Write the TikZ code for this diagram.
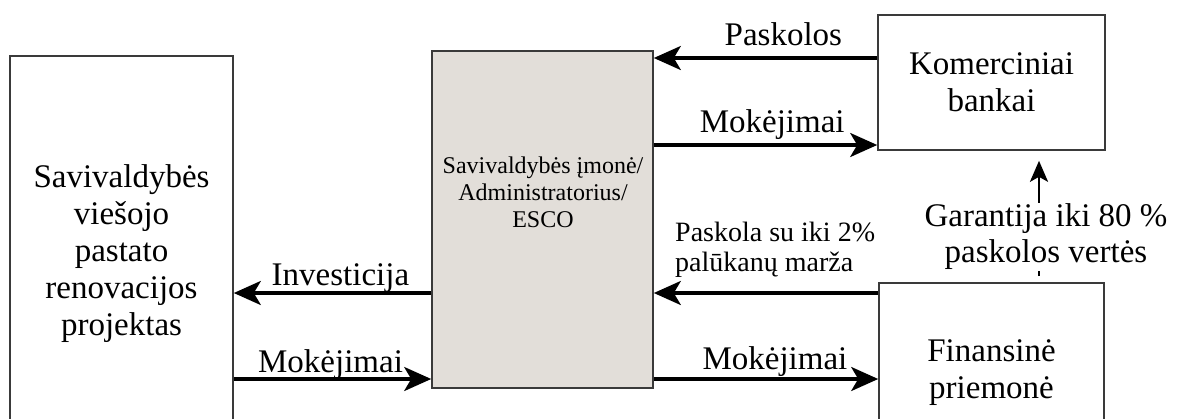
\documentclass[tikz,border=0pt]{standalone}
\usepackage{fontspec}
\setmainfont{Liberation Serif}
\usetikzlibrary{positioning}
\usetikzlibrary{arrows.meta}
\definecolor{escofill}{HTML}{E2DED9}
\definecolor{rema}{HTML}{3A3A3A}

\begin{document}
\begin{tikzpicture}[x=1pt, y=-1pt,
    box/.style={draw=rema, line width=1.6pt, inner sep=0pt, align=center},
    big/.style={font=\fontsize{33}{37}\selectfont},
    flow/.style={line width=3.4pt, -{Stealth[length=27pt, width=24pt, inset=7pt]}},
    lbl/.style={font=\fontsize{33}{37}\selectfont, inner sep=0pt, anchor=base}]
        \useasboundingbox (0,0) rectangle (1177,418);

        % Blokai
        \node[box, big, minimum width=223pt, minimum height=396pt] (proj) at (121.5,254) {Savivaldybės\\viešojo\\pastato\\renovacijos\\projektas};
        \node[box, fill=escofill, minimum width=221pt, minimum height=337pt] (esco) at (542.5,219.5) {};
        \node[font=\fontsize{24}{27}\selectfont, align=center] (escotxt) at (543,192) {Savivaldybės įmonė/\\Administratorius/\\ESCO};
        \node[box, big, minimum width=227pt, minimum height=135pt] (bankai) at (991.5,82.5) {Komerciniai\\bankai};
        \node[box, big, minimum width=225pt, minimum height=180pt] (fin) at (991.5,373) {Finansinė\\priemonė};

        % Srautai tarp bankų ir ESCO
        \draw[flow] ([yshift=24.5pt]bankai.west) -- ([yshift=24.5pt]bankai.west -| esco.east) node[lbl, pos=0.42, yshift=13pt] {Paskolos};
        \draw[flow] ([yshift=-62.5pt]bankai.west -| esco.east) -- ([yshift=-62.5pt]bankai.west) node[lbl, pos=0.53, yshift=13pt] {Mokėjimai};

        % Srautai tarp priemonės ir ESCO
        \draw[flow] ([yshift=80pt]fin.west) -- ([yshift=80pt]fin.west -| esco.east);
        \node[font=\fontsize{28}{30}\selectfont, align=left, inner sep=0pt, anchor=west] (paskola) at (675,250) {Paskola su iki 2\%\\palūkanų marža};
        \draw[flow] ([yshift=-6pt]fin.west -| esco.east) -- ([yshift=-6pt]fin.west) node[lbl, pos=0.54, yshift=10pt] {Mokėjimai};

        % Srautai tarp ESCO ir projekto
        \draw[flow] ([yshift=-73.5pt]esco.west) -- ([yshift=-73.5pt]esco.west -| proj.east) node[lbl, pos=0.46, yshift=8pt] {Investicija};
        \draw[flow] ([yshift=-159.5pt]esco.west -| proj.east) -- ([yshift=-159.5pt]esco.west) node[lbl, pos=0.49, yshift=7pt] {Mokėjimai};

        % Garantija
        \draw[line width=2.6pt, -{Stealth[length=21pt, width=18pt, inset=5pt]}, shorten <=6pt, shorten >=10pt] ([xshift=47.5pt]fin.north) -- ([xshift=47.5pt]fin.north |- bankai.south);
        \node[big, align=center, fill=white, inner sep=1pt, font=\fontsize{33}{36}\selectfont] (garantija) at (1046,237) {Garantija iki 80 \%\\paskolos vertės};
    \end{tikzpicture}
\end{document}
